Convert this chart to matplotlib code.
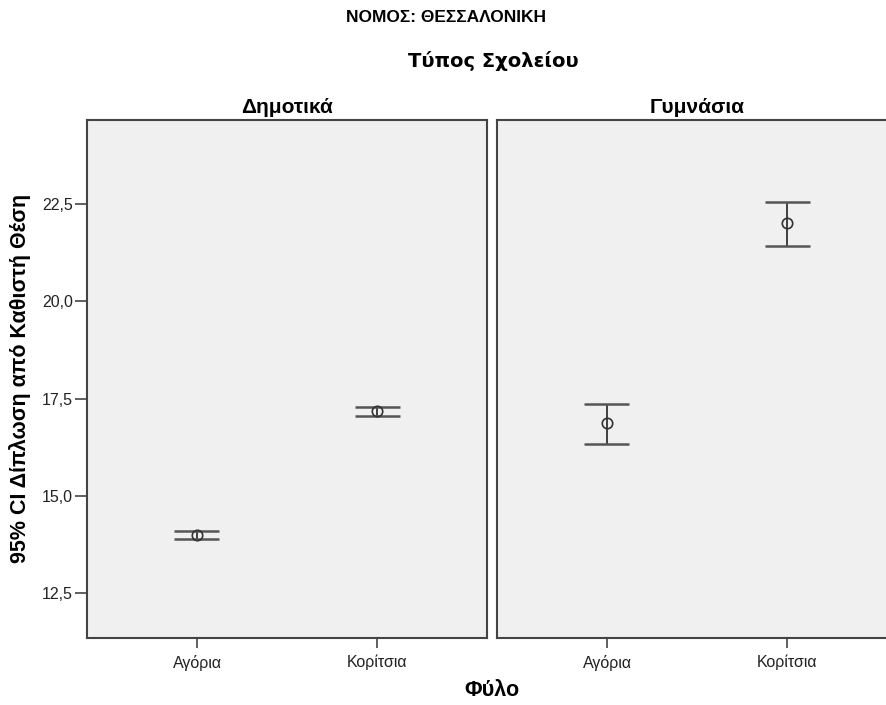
import matplotlib
matplotlib.use("Agg")
import matplotlib.pyplot as plt
import numpy as np

plt.rcParams['font.family'] = ['Liberation Sans', 'DejaVu Sans']

categories = ['Αγόρια', 'Κορίτσια']
panels = ['Δημοτικά', 'Γυμνάσια']
means = {'Δημοτικά': [14.00, 17.19], 'Γυμνάσια': [16.86, 22.01]}
lower = {'Δημοτικά': [13.89, 17.06], 'Γυμνάσια': [16.34, 21.44]}
upper = {'Δημοτικά': [14.10, 17.29], 'Γυμνάσια': [17.37, 22.55]}
yticks = [12.5, 15.0, 17.5, 20.0, 22.5]
ytick_labels = ['12,5', '15,0', '17,5', '20,0', '22,5']

fig = plt.figure(figsize=(8.86, 7.05), dpi=100)
W, H = 886, 705
def ax_rect(x0, x1, y0, y1):
    return [x0 / W, 1 - y1 / H, (x1 - x0) / W, (y1 - y0) / H]

axes = [fig.add_axes(ax_rect(87, 487, 120, 638)),
        fig.add_axes(ax_rect(497, 897, 120, 638))]

for i, (ax, p) in enumerate(zip(axes, panels)):
    ax.set_facecolor('#f0f0f0')
    x = np.arange(len(categories))
    m = np.array(means[p]); lo = np.array(lower[p]); hi = np.array(upper[p])
    ax.vlines(x, lo, hi, color='#222222', lw=1.2, zorder=2)
    ax.hlines(lo, x - 0.125, x + 0.125, color='#555555', lw=1.8, zorder=2)
    ax.hlines(hi, x - 0.125, x + 0.125, color='#555555', lw=1.8, zorder=2)
    ax.plot(x, m, 'o', ms=7.5, mfc='none', mec='#333333', mew=1.2, zorder=3)
    ax.set_xlim(-0.611, 1.611)
    ax.set_ylim(11.34, 24.67)
    ax.set_xticks(x)
    ax.set_xticklabels(categories, fontsize=11.5, color='#222222')
    ax.tick_params(axis='x', length=7, width=1.2, color='#444444', pad=5)
    if i == 0:
        ax.set_yticks(yticks)
        ax.set_yticklabels(ytick_labels, fontsize=11.5, color='#222222')
        ax.tick_params(axis='y', length=9, width=1.2, color='#444444', pad=1)
    else:
        ax.set_yticks([])
    for s in ax.spines.values():
        s.set_color('#444444')
        s.set_linewidth(1.5)
    ax.set_title(p, fontsize=15, fontweight='bold', pad=5)

fig.text(446 / W, 1 - 18 / H, 'ΝΟΜΟΣ: ΘΕΣΣΑΛΟΝΙΚΗ', ha='center', va='center',
         fontsize=12.5, fontweight='bold')
fig.text(493 / W, 1 - 61 / H, 'Τύπος Σχολείου', ha='center', va='center',
         fontsize=14, fontweight='bold', family='DejaVu Sans')
fig.text(492 / W, 1 - 690 / H, 'Φύλο', ha='center', va='center',
         fontsize=15.5, fontweight='bold')
fig.text(20 / W, 1 - 378 / H, '95% CI Δίπλωση από Καθιστή Θέση', ha='center',
         va='center', rotation=90, fontsize=15.5, fontweight='bold')

fig.savefig('out.png', dpi=100, facecolor='white')
